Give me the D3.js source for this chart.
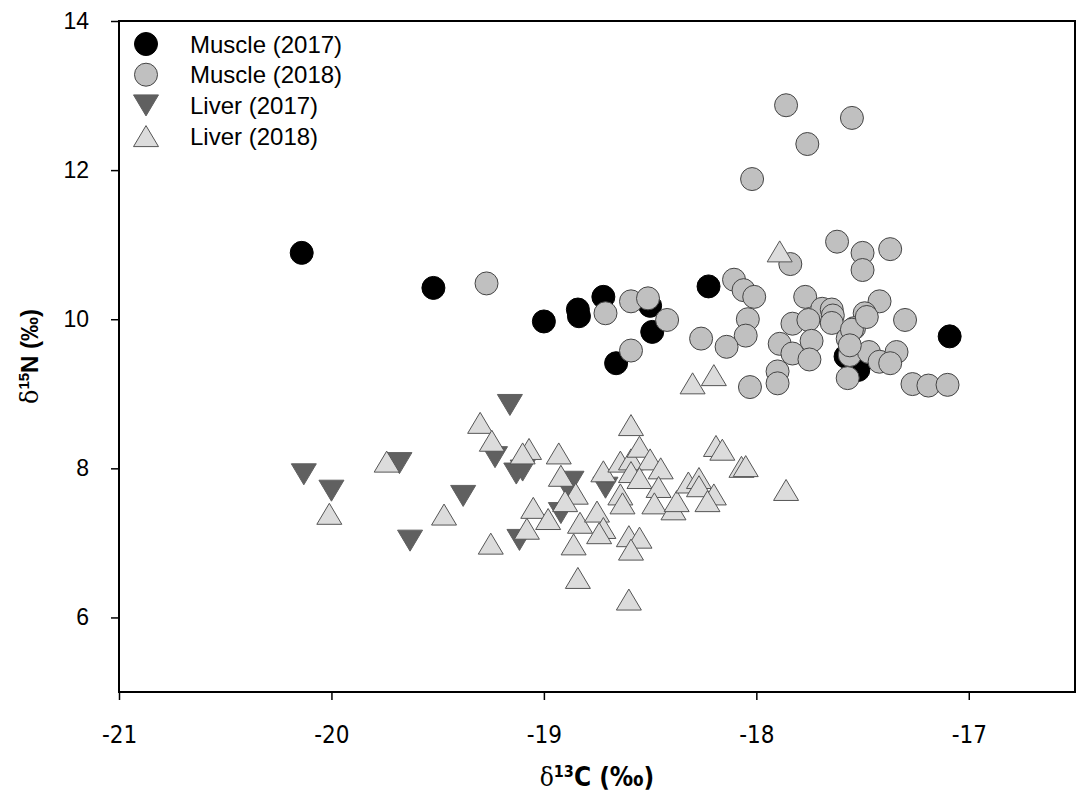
<!DOCTYPE html>
<html>
<head>
<meta charset="utf-8">
<script src="https://cdn.jsdelivr.net/npm/d3@7"></script>
<style>
  html, body { margin: 0; padding: 0; background: #fff; }
  svg { display: block; }
</style>
</head>
<body>
<svg id="chart" width="1084" height="796"></svg>
<script>
// ---- data (δ13C, δ15N) ----
const muscle2017 = [
  [-20.14, 10.89], [-19.52, 10.42], [-19.00, 9.97], [-18.84, 10.13], [-18.835, 10.04],
  [-18.72, 10.30], [-18.50, 10.18], [-18.49, 9.83], [-18.66, 9.41], [-18.225, 10.44],
  [-17.09, 9.77], [-17.52, 9.32], [-17.58, 9.50]
];
const muscle2018 = [
  [-19.27, 10.48], [-18.71, 10.08], [-18.59, 10.24], [-18.51, 10.28], [-18.42, 9.99],
  [-18.59, 9.58], [-18.105, 10.53], [-18.06, 10.39], [-18.01, 10.30], [-18.04, 10.00],
  [-18.05, 9.78], [-18.26, 9.74], [-18.14, 9.63], [-18.03, 9.09], [-17.86, 12.87],
  [-17.55, 12.70], [-17.76, 12.35], [-18.02, 11.88], [-17.84, 10.74], [-17.62, 11.04],
  [-17.50, 10.89], [-17.50, 10.66], [-17.37, 10.94], [-17.77, 10.30], [-17.42, 10.24],
  [-17.30, 9.99], [-17.69, 10.14], [-17.645, 10.13], [-17.64, 10.05], [-17.645, 9.95],
  [-17.49, 10.08], [-17.54, 9.88], [-17.83, 9.94], [-17.755, 9.99], [-17.74, 9.71],
  [-17.89, 9.67], [-17.83, 9.54], [-17.75, 9.46], [-17.90, 9.30], [-17.90, 9.14],
  [-17.57, 9.74], [-17.56, 9.52], [-17.57, 9.21], [-17.47, 9.56], [-17.42, 9.43],
  [-17.34, 9.56], [-17.265, 9.13], [-17.19, 9.11], [-17.10, 9.12], [-17.55, 9.86],
  [-17.56, 9.65], [-17.37, 9.41], [-17.48, 10.03]
];
const liver2017 = [
  [-20.13, 7.92], [-20.00, 7.70], [-19.68, 8.07], [-19.38, 7.63], [-19.63, 7.03],
  [-19.16, 8.85], [-19.23, 8.15], [-19.13, 7.93], [-19.10, 7.97], [-19.115, 7.04],
  [-18.87, 7.82], [-18.89, 7.75], [-18.92, 7.40], [-18.71, 7.74]
];
const liver2018 = [
  [-20.01, 7.39], [-19.74, 8.09], [-19.47, 7.38], [-19.30, 8.61], [-19.245, 8.37],
  [-19.25, 6.99], [-19.07, 8.26], [-19.10, 8.20], [-19.05, 7.47], [-19.08, 7.19],
  [-18.98, 7.32], [-18.93, 8.20], [-18.92, 7.90], [-18.85, 7.66], [-18.90, 7.56],
  [-18.83, 7.27], [-18.86, 6.98], [-18.84, 6.53], [-18.75, 7.42], [-18.72, 7.20],
  [-18.74, 7.13], [-18.72, 7.96], [-18.59, 8.58], [-18.64, 8.09], [-18.59, 8.12],
  [-18.55, 8.29], [-18.50, 8.12], [-18.45, 8.00], [-18.59, 7.95], [-18.55, 7.87],
  [-18.64, 7.65], [-18.63, 7.53], [-18.46, 7.75], [-18.48, 7.53], [-18.39, 7.45],
  [-18.375, 7.56], [-18.32, 7.81], [-18.60, 7.09], [-18.55, 7.07], [-18.59, 6.91],
  [-18.60, 6.24], [-18.19, 8.30], [-18.16, 8.25], [-18.07, 8.02], [-18.05, 8.03],
  [-17.86, 7.71], [-18.27, 7.87], [-18.27, 7.76], [-18.20, 7.65], [-18.23, 7.56],
  [-18.30, 9.14], [-18.20, 9.25], [-17.89, 10.91]
];
const seriesNames = ["Muscle (2017)", "Muscle (2018)", "Liver (2017)", "Liver (2018)"];
const xTicks = [-21, -20, -19, -18, -17];
const yTicks = [6, 8, 10, 12, 14];
const xDomain = [-21, -16.5];
const yDomain = [5, 14];

// ---- layout ----
const svg = d3.select("#chart");
const m = { left: 119, top: 21, right: 9, bottom: 104 };
const W = 1084, H = 796;
const x = d3.scaleLinear().domain(xDomain).range([m.left, W - m.right]);
const y = d3.scaleLinear().domain(yDomain).range([H - m.bottom, m.top]);

const styles = [
  { sym: "circle", fill: "#000000", stroke: "#000000" },
  { sym: "circle", fill: "#c0c0c0", stroke: "#444444" },
  { sym: "down", fill: "#606060", stroke: "#606060" },
  { sym: "up", fill: "#dcdcdc", stroke: "#555555" }
];
const R = 11.5;   // circle radius
const TW = 25, TH = 21; // triangle width/height

function markerPath(kind) {
  if (kind === "up") return `M0,${-TH/2}L${TW/2},${TH/2}L${-TW/2},${TH/2}Z`;
  if (kind === "down") return `M0,${TH/2}L${TW/2},${-TH/2}L${-TW/2},${-TH/2}Z`;
  return d3.symbol().type(d3.symbolCircle).size(Math.PI * R * R)();
}

const allSeries = [muscle2017, muscle2018, liver2017, liver2018];
const plot = svg.append("g");
allSeries.forEach((data, i) => {
  const st = styles[i];
  plot.append("g").selectAll("path").data(data).join("path")
    .attr("d", markerPath(st.sym))
    .attr("transform", d => `translate(${x(d[0])},${y(d[1])})`)
    .attr("fill", st.fill)
    .attr("stroke", st.stroke)
    .attr("stroke-width", 1);
});

// ---- frame ----
svg.append("rect")
  .attr("x", m.left).attr("y", m.top)
  .attr("width", W - m.left - m.right).attr("height", H - m.top - m.bottom)
  .attr("fill", "none").attr("stroke", "#000").attr("stroke-width", 2);

// ---- axes ----
const xAxis = d3.axisBottom(x).tickValues(xTicks).tickSize(8).tickPadding(26)
  .tickFormat(d => String(d));
const gx = svg.append("g").attr("transform", `translate(0,${H - m.bottom})`).call(xAxis);
gx.select(".domain").remove();
gx.selectAll(".tick line").attr("stroke", "#000").attr("stroke-width", 1.5);
gx.selectAll(".tick text")
  .attr("fill", "#000")
  .style("font-family", "'DejaVu Sans Condensed', 'Liberation Sans Narrow', sans-serif")
  .style("font-stretch", "condensed")
  .style("font-size", "24px");

const yAxis = d3.axisLeft(y).tickValues(yTicks).tickSize(8).tickPadding(22)
  .tickFormat(d => String(d));
const gy = svg.append("g").attr("transform", `translate(${m.left},0)`).call(yAxis);
gy.select(".domain").remove();
gy.selectAll(".tick line").attr("stroke", "#000").attr("stroke-width", 1.5);
gy.selectAll(".tick text")
  .attr("fill", "#000")
  .style("font-family", "'Liberation Sans', Arial, sans-serif")
  .style("font-size", "23px");

// ---- axis titles ----
const xt = svg.append("text")
  .attr("x", (m.left + W - m.right) / 2).attr("y", 786)
  .attr("text-anchor", "middle")
  .style("font-family", "'DejaVu Sans Condensed', 'Liberation Sans Narrow', sans-serif")
  .style("font-stretch", "condensed")
  .style("font-size", "26px").style("font-weight", "bold");
xt.append("tspan").text("δ").style("font-weight", "normal").style("font-family", "'DejaVu Serif', serif");
xt.append("tspan").text("13").attr("dy", -9).style("font-size", "16px");
xt.append("tspan").text("C (‰)").attr("dy", 9);

const yt = svg.append("text")
  .attr("transform", `translate(38,${(m.top + H - m.bottom) / 2}) rotate(-90)`)
  .attr("text-anchor", "middle")
  .style("font-family", "'Liberation Sans', Arial, sans-serif")
  .style("font-size", "24px").style("font-weight", "bold");
yt.append("tspan").text("δ").style("font-weight", "normal").style("font-family", "'DejaVu Serif', serif");
yt.append("tspan").text("15").attr("dy", -9).style("font-size", "15px");
yt.append("tspan").text("N (‰)").attr("dy", 9);

// ---- legend ----
const legend = svg.append("g");
const legX = 146, legY0 = 44, legDy = 30.7;
seriesNames.forEach((name, i) => {
  const st = styles[i];
  const yy = legY0 + i * legDy;
  legend.append("path")
    .attr("d", markerPath(st.sym))
    .attr("transform", `translate(${legX},${yy})`)
    .attr("fill", st.fill).attr("stroke", st.stroke).attr("stroke-width", 1);
  legend.append("text")
    .attr("x", 190).attr("y", yy).attr("dy", "0.36em")
    .style("font-family", "'Liberation Sans', Arial, sans-serif")
    .style("font-size", "24px")
    .attr("fill", "#000")
    .text(name);
});
</script>
</body>
</html>
